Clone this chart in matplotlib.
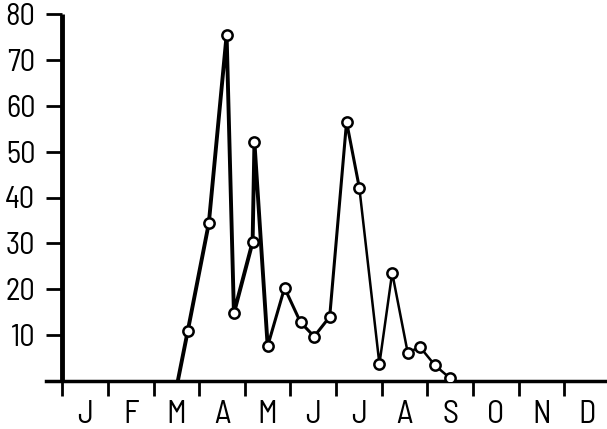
import matplotlib
matplotlib.use("Agg")
import matplotlib.pyplot as plt
import numpy as np

# Month labels and sampling (x in months from 1 January, y = count)
months = ["J", "F", "M", "A", "M", "J", "J", "A", "S", "O", "N", "D"]
x_vals = [2.53, 2.75, 3.21, 3.60, 3.76, 4.17, 4.21, 4.50, 4.87, 5.22,
          5.52, 5.86, 6.23, 6.51, 6.95, 7.23, 7.57, 7.84, 8.17, 8.50]
y_vals = [0.0, 11.0, 34.4, 75.4, 14.8, 30.3, 52.0, 7.6, 20.3, 12.8,
          9.7, 14.0, 56.5, 42.1, 3.7, 23.6, 6.2, 7.4, 3.4, 0.6]
y_ticks = [10, 20, 30, 40, 50, 60, 70, 80]

plt.rcParams['font.family'] = ['Barlow Semi Condensed', 'Barlow Condensed', 'DejaVu Sans']
plt.rcParams['font.weight'] = 'normal'

fig = plt.figure(figsize=(6.07, 4.29), dpi=100)
ax = fig.add_axes([46 / 607, 1 - 381 / 429, 1 - 46 / 607, (381 - 14) / 429])

x = np.array(x_vals)
y = np.array(y_vals)

# heavier pen for the spring part, lighter afterwards
ax.plot(x[:8], y[:8], color="black", lw=2.8, zorder=3)
ax.plot(x[7:14], y[7:14], color="black", lw=2.2, zorder=3)
ax.plot(x[13:], y[13:], color="black", lw=1.8, zorder=3)
ax.plot(x[1:], y[1:], linestyle="none", marker="o", ms=7.4,
        mfc="white", mec="black", mew=1.8, zorder=4)

ax.set_xlim(-0.36, 11.94)
ax.set_ylim(0, 80)

for side in ("top", "right"):
    ax.spines[side].set_visible(False)
ax.spines["left"].set_position(("data", 0))
ax.spines["left"].set_linewidth(3.5)
ax.spines["bottom"].set_linewidth(2.5)
ax.spines["left"].set_capstyle("butt")

ax.set_yticks(y_ticks)
ax.set_yticklabels([str(v) for v in y_ticks])
ax.tick_params(axis="y", direction="out", length=11.5, width=2.0,
               pad=8, labelsize=22)

ax.set_xticks(np.arange(0, 12))
ax.set_xticklabels([])
ax.set_xticks(np.arange(12) + 0.5, minor=True)
ax.set_xticklabels(months, minor=True)
ax.tick_params(axis="x", which="major", direction="out", length=11,
               width=2.0)
ax.tick_params(axis="x", which="minor", length=0, pad=13.5, labelsize=23)

fig.savefig("out.png", dpi=100)
